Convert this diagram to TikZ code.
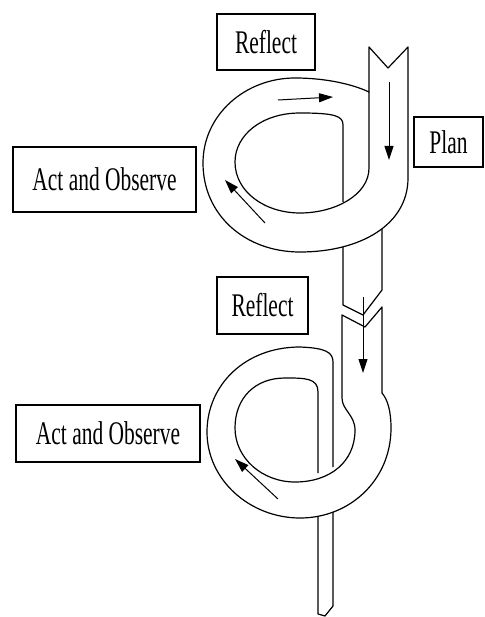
\documentclass[tikz,border=0pt]{standalone}
\usepackage{fontspec}
\setmainfont{Liberation Serif}[FakeStretch=0.65]
\usetikzlibrary{arrows.meta}

\begin{document}
\begin{tikzpicture}[x=1pt, y=-1pt,
    labelbox/.style={draw, line width=1.5pt, inner sep=0pt, font=\fontsize{33}{36}\selectfont},
    ribbon/.style={line width=1.2pt, line join=round},
    flow/.style={line width=1pt, -{Triangle[length=14pt, width=9pt]}}]
  \useasboundingbox (0,0) rectangle (484,617);

  % Labels
  \node[labelbox, minimum width=98pt, minimum height=56pt] (reflectA) at (266,42) {Reflect};
  \node[labelbox, minimum width=69pt, minimum height=50pt] (plan) at (448.5,142) {Plan};
  \node[labelbox, minimum width=183pt, minimum height=65pt] (actA) at (104.5,179.5) {Act and Observe};
  \node[labelbox, minimum width=91pt, minimum height=57pt] (reflectB) at (262.5,305.5) {Reflect};
  \node[labelbox, minimum width=184pt, minimum height=57pt] (actB) at (108,433.5) {Act and Observe};

  % Strip between the loops
  \draw[ribbon] (343,210) -- (343,305) -- (363,315) -- (382,290) -- (382,210);

  % Upper loop
  \filldraw[ribbon, fill=white] (369,92) -- (369,47) -- (388,68) -- (408,47) -- (408,178)
    .. controls (408,225) and (360,252) .. (300,252)
    .. controls (245,252) and (203,215) .. (203,163)
    .. controls (203,115) and (245,78) .. (295,78)
    .. controls (325,78) and (352,84) .. (369,92) -- cycle;
  \draw[ribbon] (343,202) -- (343,125)
    .. controls (343,116) and (335,113) .. (300,113)
    .. controls (262,113) and (235,135) .. (235,162)
    .. controls (235,192) and (265,213) .. (300,213)
    .. controls (335,213) and (369,195) .. (369,168) -- (369,92);
  \draw[flow] (389,82) -- (389,160);
  \draw[flow] (278,100) -- (333,97);
  \draw[flow] (265,223) -- (225,180);

  % Lower strip
  \draw[ribbon] (318,480) -- (318,614) -- (325,616) -- (333,606) -- (333,480);

  % Lower loop
  \fill[white] (333,362)
    .. controls (333,352) and (325,348) .. (300,347)
    .. controls (245,347) and (207,385) .. (207,432)
    .. controls (207,480) and (250,518) .. (300,518)
    .. controls (350,518) and (391,480) .. (391,428)
    .. controls (391,412) and (388,400) .. (382,393)
    -- (382,307) -- (365,327) -- (342,315) -- cycle;
  \draw[ribbon] (333,467) -- (333,362)
    .. controls (333,352) and (325,348) .. (300,347)
    .. controls (245,347) and (207,385) .. (207,432)
    .. controls (207,480) and (250,518) .. (300,518)
    .. controls (350,518) and (391,480) .. (391,428)
    .. controls (391,412) and (388,400) .. (382,393)
    -- (382,307) -- (365,327) -- (342,315) -- (342,398)
    .. controls (342,410) and (355,415) .. (355,430)
    .. controls (355,462) and (330,482) .. (295,482)
    .. controls (262,482) and (235,458) .. (235,428)
    .. controls (235,398) and (255,378) .. (285,378)
    .. controls (305,378) and (318,378) .. (318,392) -- (318,473);
  \draw[flow] (363,297) -- (363,373);
  \draw[flow] (278,499) -- (235,459);
\end{tikzpicture}
\end{document}
